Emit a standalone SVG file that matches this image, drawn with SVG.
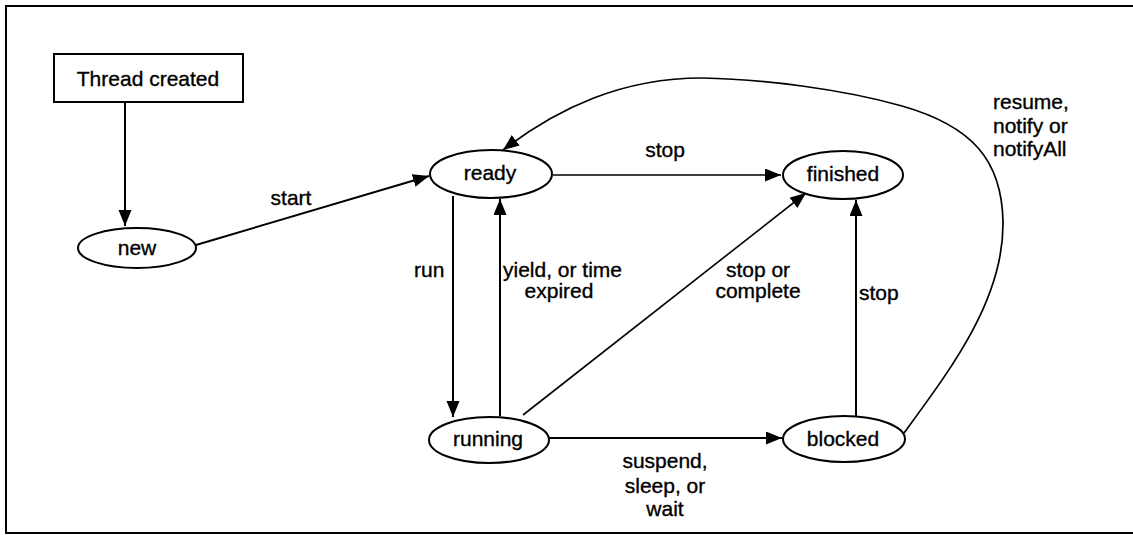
<svg xmlns="http://www.w3.org/2000/svg" width="1133" height="535" viewBox="0 0 1133 535">
  <defs>
    <marker id="arrow" markerUnits="userSpaceOnUse" markerWidth="18" markerHeight="14" refX="16" refY="6.5" orient="auto">
      <path d="M0,0 L16,6.5 L0,13 z" fill="#000"/>
    </marker>
    <style>
      text { font-family: "Liberation Sans", Arial, sans-serif; font-size: 21px; fill: #000; stroke: #000; stroke-width: 0.35; }
      .mid { text-anchor: middle; }
      .state { fill: #fff; stroke: #000; stroke-width: 2; }
      .box { fill: #fff; stroke: #000; stroke-width: 2; }
      .edge { fill: none; stroke: #000; stroke-width: 2; marker-end: url(#arrow); }
      .thin { stroke-width: 1.3; }
      .frame { fill: none; stroke: #000; stroke-width: 2; }
    </style>
  </defs>

  <rect width="1133" height="535" fill="#fff"/>

  <!-- outer border (open on the right) -->
  <path class="frame" d="M1133,6 H6 V533 H1133"/>

  <!-- transitions -->
  <g id="connectors">
    <line class="edge" x1="125" y1="102" x2="125" y2="226"/>
    <line class="edge" x1="196" y1="245" x2="429" y2="176"/>
    <line class="edge thin" x1="553" y1="175" x2="781" y2="175"/>
    <line class="edge" x1="453" y1="196" x2="453" y2="417"/>
    <line class="edge" x1="500" y1="416" x2="500" y2="199"/>
    <line class="edge" style="stroke-width:1.6" x1="523" y1="415" x2="806" y2="193"/>
    <line class="edge" x1="549" y1="438" x2="782" y2="438"/>
    <line class="edge" x1="856" y1="416" x2="856" y2="200"/>
    <path class="edge" style="stroke-width:1.7" d="M904,433 C950,370 1004,300 1003,222 C1002,160 972,126 902,106 C842,89 762,79 702,78 C622,78 558,108 503,150"/>

    <text class="mid" x="291" y="205">start</text>
    <text class="mid" x="665" y="157">stop</text>
    <text x="414" y="277">run</text>
    <text x="503" y="277">yield, or time</text>
    <text class="mid" x="559" y="298">expired</text>
    <text class="mid" x="758" y="277">stop or</text>
    <text class="mid" x="758" y="298">complete</text>
    <text x="859" y="300">stop</text>
    <text class="mid" x="665" y="468">suspend,</text>
    <text class="mid" x="665" y="493">sleep, or</text>
    <text class="mid" x="665" y="516">wait</text>
    <text x="993" y="109">resume,</text>
    <text x="993" y="133">notify or</text>
    <text x="993" y="156">notifyAll</text>
  </g>

  <!-- states -->
  <g id="created">
    <rect class="box" x="54" y="54" width="189" height="48"/>
    <text class="mid" x="148" y="86">Thread created</text>
  </g>
  <g id="new">
    <ellipse class="state" cx="137" cy="248" rx="59" ry="20"/>
    <text class="mid" x="137" y="255">new</text>
  </g>
  <g id="ready">
    <ellipse class="state" cx="491" cy="174" rx="61" ry="24"/>
    <text class="mid" x="490" y="180">ready</text>
  </g>
  <g id="finished">
    <ellipse class="state" cx="843" cy="175" rx="60" ry="24"/>
    <text class="mid" x="843" y="181">finished</text>
  </g>
  <g id="running">
    <ellipse class="state" cx="489" cy="440" rx="60" ry="23"/>
    <text class="mid" x="488" y="446">running</text>
  </g>
  <g id="blocked">
    <ellipse class="state" cx="844" cy="439" rx="61" ry="23"/>
    <text class="mid" x="843" y="446">blocked</text>
  </g>
</svg>
